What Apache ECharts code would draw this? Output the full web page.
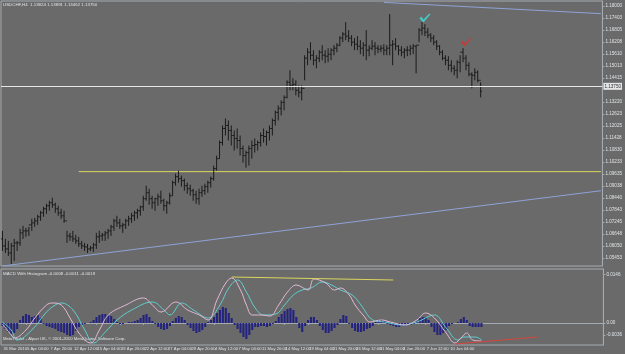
<!DOCTYPE html>
<html><head><meta charset="utf-8">
<script src="https://cdn.jsdelivr.net/npm/echarts@6/dist/echarts.min.js"></script>
<style>html,body{margin:0;padding:0;background:#6a6a6a}#c{width:625px;height:354px}</style>
</head><body><div id="c"></div>
<script>
// ---- DATA ----
const symbolTitle = "USDCHF,H4  1.13824 1.13891 1.13462 1.13750";
const macdTitle = "MACD With Histogram -0.0008 -0.0011 -0.0019";
const footer = "MetaTrader - Alpari UK, \u00a9 2001-2010 MetaQuotes Software Corp.";
const xTickLabels = ["31 Mar 2010","5 Apr 04:00","7 Apr 20:00","12 Apr 12:00","15 Apr 04:00","19 Apr 20:00","22 Apr 12:00","27 Apr 04:00","29 Apr 20:00","4 May 12:00","7 May 04:00","11 May 20:00","14 May 12:00","19 May 04:00","21 May 20:00","26 May 12:00","31 May 04:00","2 Jun 20:00","7 Jun 12:00","10 Jun 04:00","14 Jun 20:00"];
const priceTicks = [1.18000,1.17403,1.16805,1.16208,1.15610,1.15013,1.14415,1.13220,1.12623,1.12025,1.11428,1.10830,1.10233,1.09635,1.09038,1.08440,1.07843,1.07245,1.06648,1.06050,1.05453];
const macdTicks = [0.0146, 0, -0.0036];
const currentPrice = 1.1375;

const highs = [1.0680,1.0640,1.0630,1.0620,1.0640,1.0630,1.0690,1.0705,1.0695,1.0700,
 1.0740,1.0745,1.0760,1.0780,1.0800,1.0815,1.0830,1.0845,1.0820,1.0805,
 1.0790,1.0780,1.0680,1.0670,1.0680,1.0660,1.0650,1.0630,1.0620,1.0615,
 1.0605,1.0620,1.0670,1.0680,1.0670,1.0680,1.0690,1.0710,1.0740,1.0755,
 1.0740,1.0720,1.0740,1.0755,1.0770,1.0780,1.0790,1.0805,1.0855,1.0905,
 1.0890,1.0855,1.0845,1.0865,1.0880,1.0840,1.0830,1.0870,1.0930,1.0965,
 1.0980,1.0955,1.0940,1.0920,1.0910,1.0890,1.0880,1.0890,1.0905,1.0915,
 1.0930,1.0950,1.1005,1.1055,1.1130,1.1205,1.1240,1.1230,1.1205,1.1180,
 1.1190,1.1155,1.1105,1.1080,1.1105,1.1130,1.1140,1.1130,1.1170,1.1190,
 1.1180,1.1205,1.1240,1.1280,1.1305,1.1330,1.1355,1.1430,1.1480,1.1440,
 1.1430,1.1405,1.1405,1.1555,1.1590,1.1620,1.1580,1.1555,1.1580,1.1605,
 1.1580,1.1590,1.1590,1.1605,1.1615,1.1650,1.1670,1.1720,1.1680,1.1655,
 1.1640,1.1650,1.1630,1.1620,1.1680,1.1605,1.1630,1.1620,1.1605,1.1605,
 1.1610,1.1605,1.1760,1.1630,1.1640,1.1605,1.1600,1.1590,1.1600,1.1605,
 1.1610,1.1605,1.1690,1.1720,1.1710,1.1690,1.1665,1.1655,1.1630,1.1605,
 1.1580,1.1555,1.1550,1.1530,1.1505,1.1530,1.1555,1.1590,1.1555,1.1520,
 1.1470,1.1490,1.1480,1.1420];
const lows = [1.0580,1.0570,1.0555,1.0515,1.0530,1.0580,1.0605,1.0640,1.0650,1.0655,
 1.0680,1.0700,1.0710,1.0730,1.0750,1.0765,1.0780,1.0795,1.0770,1.0755,
 1.0740,1.0720,1.0620,1.0630,1.0625,1.0615,1.0600,1.0590,1.0580,1.0570,
 1.0580,1.0575,1.0590,1.0620,1.0630,1.0630,1.0640,1.0655,1.0680,1.0700,
 1.0690,1.0670,1.0690,1.0705,1.0720,1.0730,1.0740,1.0755,1.0780,1.0830,
 1.0810,1.0790,1.0780,1.0805,1.0815,1.0780,1.0765,1.0810,1.0855,1.0905,
 1.0920,1.0900,1.0880,1.0865,1.0855,1.0830,1.0815,1.0810,1.0850,1.0860,
 1.0870,1.0895,1.0930,1.0980,1.1040,1.1105,1.1155,1.1130,1.1105,1.1080,
 1.1090,1.1055,1.1020,1.0995,1.1005,1.1040,1.1070,1.1080,1.1100,1.1120,
 1.1105,1.1130,1.1155,1.1205,1.1230,1.1255,1.1280,1.1340,1.1380,1.1380,
 1.1355,1.1345,1.1330,1.1430,1.1505,1.1530,1.1505,1.1490,1.1520,1.1530,
 1.1515,1.1520,1.1530,1.1555,1.1570,1.1600,1.1620,1.1630,1.1620,1.1600,
 1.1580,1.1580,1.1560,1.1550,1.1530,1.1550,1.1580,1.1555,1.1565,1.1570,
 1.1555,1.1555,1.1555,1.1505,1.1580,1.1555,1.1550,1.1540,1.1550,1.1555,
 1.1560,1.1465,1.1620,1.1655,1.1650,1.1640,1.1620,1.1605,1.1580,1.1555,
 1.1530,1.1505,1.1480,1.1470,1.1455,1.1440,1.1470,1.1520,1.1480,1.1450,
 1.1390,1.1430,1.1420,1.1345];
const closes = [1.0605,1.0590,1.0570,1.0605,1.0620,1.0620,1.0670,1.0680,1.0680,1.0710,
 1.0720,1.0730,1.0750,1.0770,1.0790,1.0805,1.0820,1.0810,1.0790,1.0770,
 1.0755,1.0730,1.0655,1.0650,1.0640,1.0630,1.0615,1.0605,1.0600,1.0590,
 1.0595,1.0610,1.0650,1.0655,1.0660,1.0670,1.0680,1.0700,1.0730,1.0720,
 1.0705,1.0710,1.0730,1.0740,1.0755,1.0770,1.0780,1.0800,1.0840,1.0870,
 1.0840,1.0820,1.0840,1.0850,1.0830,1.0805,1.0820,1.0855,1.0920,1.0950,
 1.0940,1.0930,1.0905,1.0890,1.0880,1.0860,1.0840,1.0870,1.0880,1.0900,
 1.0920,1.0940,1.0990,1.1040,1.1120,1.1190,1.1205,1.1180,1.1155,1.1140,
 1.1130,1.1090,1.1055,1.1070,1.1090,1.1105,1.1110,1.1120,1.1155,1.1150,
 1.1170,1.1190,1.1230,1.1270,1.1290,1.1320,1.1345,1.1420,1.1405,1.1410,
 1.1380,1.1370,1.1390,1.1540,1.1570,1.1555,1.1530,1.1540,1.1570,1.1555,
 1.1550,1.1560,1.1580,1.1590,1.1605,1.1640,1.1660,1.1650,1.1640,1.1620,
 1.1610,1.1600,1.1590,1.1605,1.1580,1.1590,1.1600,1.1590,1.1585,1.1590,
 1.1580,1.1590,1.1605,1.1610,1.1600,1.1580,1.1570,1.1580,1.1580,1.1590,
 1.1600,1.1605,1.1680,1.1690,1.1670,1.1655,1.1640,1.1620,1.1600,1.1570,
 1.1540,1.1530,1.1505,1.1490,1.1480,1.1520,1.1570,1.1540,1.1505,1.1460,
 1.1455,1.1470,1.1430,1.1375];
const firstOpen = 1.0640;

const histogram = [-0.0009,-0.0018,-0.0027,-0.0033,-0.0030,-0.0018,0.0009,0.0021,0.0027,0.0024,
 0.0018,0.0021,0.0024,0.0015,-0.0003,-0.0009,-0.0012,-0.0015,-0.0018,-0.0024,
 -0.0027,-0.0030,-0.0036,-0.0039,-0.0036,-0.0024,-0.0012,-0.0006,-0.0003,0,
 0.0003,0.0009,0.0018,0.0024,0.0027,0.0027,0.0024,0.0021,0.0012,0.0003,
 -0.0003,-0.0003,0,0.0003,0.0003,0.0006,0.0009,0.0015,0.0024,0.0027,
 0.0018,0.0006,-0.0003,-0.0012,-0.0018,-0.0021,-0.0018,-0.0009,0.0006,0.0015,
 0.0021,0.0018,0.0009,-0.0006,-0.0015,-0.0024,-0.0030,-0.0027,-0.0021,-0.0012,
 0.0003,0.0009,0.0018,0.0030,0.0039,0.0048,0.0045,0.0030,0.0015,-0.0006,
 -0.0018,-0.0030,-0.0042,-0.0048,-0.0036,-0.0021,-0.0012,-0.0012,-0.0009,-0.0009,
 -0.0012,-0.0009,-0.0003,0.0006,0.0018,0.0027,0.0036,0.0042,0.0045,0.0039,
 0.0018,-0.0015,-0.0027,-0.0009,0.0009,0.0018,0.0018,0.0009,-0.0009,-0.0021,
 -0.0030,-0.0030,-0.0024,-0.0015,-0.0006,0.0012,0.0024,0.0021,-0.0003,-0.0015,
 -0.0024,-0.0027,-0.0027,-0.0024,-0.0018,-0.0015,-0.0009,0.0003,0.0009,0.0009,
 0.0006,-0.0003,-0.0006,-0.0009,-0.0012,-0.0012,-0.0009,-0.0009,-0.0006,-0.0006,
 -0.0003,0.0006,0.0015,0.0018,0.0018,0.0009,-0.0012,-0.0027,-0.0036,-0.0036,
 -0.0030,-0.0021,-0.0009,-0.0003,0,0.0003,0.0012,0.0018,0.0009,-0.0009,
 -0.0012,-0.0012,-0.0012,-0.0012];

// [bar index, value] samples of the two MACD lines
const macdMain = [[0,-0.0003],[3,-0.0036],[4,-0.0045],[8,-0.0021],[11,0.0015],[15,0.0054],[17,0.0060],[20,0.0054],[23,0.0015],[26,-0.0030],[30,-0.0060],[33,-0.0021],[36,0.0024],[42,0.0054],[48,0.0075],[51,0.0054],[54,0.0033],[59,0.0063],[63,0.0039],[67,0.0024],[70,0.0009],[73,0.0069],[76,0.0120],[78,0.0135],[81,0.0099],[83,0.0054],[85,0.0024],[88,0.0024],[91,0.0021],[94,0.0054],[97,0.0093],[100,0.0114],[104,0.0099],[106,0.0132],[110,0.0120],[113,0.0099],[115,0.0105],[118,0.0084],[120,0.0054],[123,0.0021],[125,0.0003],[129,0.0009],[132,0.0003],[137,-0.0006],[141,0.0009],[144,0.0030],[147,0.0015],[151,-0.0030],[154,-0.0060],[156,-0.0045],[158,-0.0030],[160,-0.0051],[163,-0.0054]];
const macdSignal = [[0,0.0003],[3,-0.0021],[5,-0.0051],[10,-0.0021],[15,0.0033],[18,0.0054],[20,0.0060],[24,0.0039],[28,-0.0021],[31,-0.0060],[35,-0.0027],[39,0.0009],[44,0.0039],[51,0.0063],[55,0.0039],[57,0.0024],[61,0.0060],[65,0.0039],[70,0.0015],[74,0.0054],[77,0.0105],[80,0.0129],[83,0.0093],[86,0.0045],[89,0.0024],[93,0.0027],[96,0.0054],[99,0.0084],[102,0.0099],[105,0.0105],[109,0.0123],[112,0.0114],[115,0.0099],[119,0.0084],[122,0.0054],[126,0.0009],[130,0.0003],[136,-0.0006],[141,0.0003],[147,0.0024],[151,-0.0015],[155,-0.0051],[157,-0.0042],[161,-0.0042],[163,-0.0051]];

// hand-drawn objects: [bar index, value] end points
const yellowLevel = [[26,1.0975],[204,1.0975]];
const lowerTrend = [[0,1.0505],[204,1.0880]];
const upperTrend = [[130,1.1818],[204,1.1762]];
const macdYellow = [[78,0.0138],[133,0.0129]];
const macdRed = [[154,-0.0063],[182,-0.0042]];
const cyanCheck = [[144,1.1740]];
const redCheck = [[158,1.1620]];
const slotCount = 205;
const labelEvery = 8;

// ---- BUILD ----
const cats = [];
for (let i = 0; i < slotCount; i++) {
  cats.push(i % labelEvery === 0 && xTickLabels[i / labelEvery] ? xTickLabels[i / labelEvery] : '');
}
const ohlc = highs.map((h, i) => [i, i === 0 ? firstOpen : closes[i - 1], closes[i], lows[i], h]);

const FG = '#dfe3e6', FRAME = '#a3abb0', FONT = 'Liberation Sans';
const chart = echarts.init(document.getElementById('c'), null, {renderer: 'canvas'});
const checkPath = 'path://M0,5 L2,3 L4,6 L10,0 L11,1 L4,9 Z';
const showLabel = (idx, val) => val !== '';

chart.setOption({
  animation: false,
  backgroundColor: '#6a6a6a',
  grid: [
    {left: 1, right: 15, top: 1, height: 265, show: true, borderColor: FRAME, borderWidth: 1, backgroundColor: '#6a6a6a'},
    {left: 1, right: 15, top: 269, height: 76, show: true, borderColor: FRAME, borderWidth: 1, backgroundColor: '#6a6a6a'}
  ],
  xAxis: [
    {type: 'category', gridIndex: 0, data: cats, boundaryGap: true, axisLine: {show: false}, axisTick: {show: false}, axisLabel: {show: false}, splitLine: {show: false}},
    {type: 'category', gridIndex: 1, data: cats, boundaryGap: true,
     axisLine: {show: true, lineStyle: {color: FRAME}},
     axisTick: {show: true, interval: showLabel, alignWithLabel: true, length: 2, lineStyle: {color: FRAME}},
     axisLabel: {show: true, interval: showLabel, align: 'left', color: FG, fontSize: 4.2, fontFamily: FONT, margin: 2, padding: [0,0,0,1]},
     splitLine: {show: false}}
  ],
  yAxis: [
    {type: 'value', gridIndex: 0, position: 'right', min: 1.0505, max: 1.1825, scale: true,
     axisLine: {show: true, lineStyle: {color: FRAME}},
     axisTick: {show: true, customValues: priceTicks, length: 2, lineStyle: {color: FRAME}},
     axisLabel: {show: true, customValues: priceTicks, formatter: v => v.toFixed(5), color: FG, fontSize: 4.6, fontFamily: FONT, margin: 3},
     splitLine: {show: false}},
    {type: 'value', gridIndex: 1, position: 'right', min: -0.0066, max: 0.0162,
     axisLine: {show: true, lineStyle: {color: FRAME}},
     axisTick: {show: true, customValues: macdTicks, length: 2, lineStyle: {color: FRAME}},
     axisLabel: {show: true, customValues: macdTicks, formatter: v => v === 0 ? '0.00' : v.toFixed(4), color: FG, fontSize: 4.6, fontFamily: FONT, margin: 3},
     splitLine: {show: false}}
  ],
  graphic: [
    {type: 'text', left: 3, top: 3, style: {text: symbolTitle, fill: FG, font: '4.4px "Liberation Sans"'}},
    {type: 'text', left: 3, top: 272, style: {text: macdTitle, fill: FG, font: '4.4px "Liberation Sans"'}},
    {type: 'text', left: 3, top: 337, style: {text: footer, fill: FG, font: '4.2px "Liberation Sans"'}}
  ],
  series: [
    {type: 'line', xAxisIndex: 0, yAxisIndex: 0, data: lowerTrend, showSymbol: false, lineStyle: {color: '#8ea3d6', width: 1}, silent: true, z: 2},
    {type: 'line', xAxisIndex: 0, yAxisIndex: 0, data: upperTrend, showSymbol: false, lineStyle: {color: '#8ea3d6', width: 1}, silent: true, z: 2},
    {type: 'line', xAxisIndex: 0, yAxisIndex: 0, data: yellowLevel, showSymbol: false, lineStyle: {color: '#d9d65e', width: 1}, silent: true, z: 2},
    {type: 'custom', xAxisIndex: 0, yAxisIndex: 0, data: ohlc, z: 3,
     renderItem: function (params, api) {
       const x = api.coord([api.value(0), api.value(4)])[0];
       const yH = api.coord([api.value(0), api.value(4)])[1];
       const yL = api.coord([api.value(0), api.value(3)])[1];
       const yO = api.coord([api.value(0), api.value(1)])[1];
       const yC = api.coord([api.value(0), api.value(2)])[1];
       const st = {stroke: '#1b1b1b', lineWidth: 1};
       return {type: 'group', children: [
         {type: 'line', shape: {x1: x, y1: yH, x2: x, y2: yL}, style: st},
         {type: 'line', shape: {x1: x - 1.4, y1: yO, x2: x, y2: yO}, style: st},
         {type: 'line', shape: {x1: x, y1: yC, x2: x + 1.4, y2: yC}, style: st}
       ]};
     },
     markLine: {symbol: 'none', silent: true, data: [{yAxis: currentPrice}],
       lineStyle: {color: '#e6e6e6', width: 1, type: 'solid'},
       label: {show: true, position: 'end', distance: 1, formatter: () => currentPrice.toFixed(5),
         backgroundColor: '#e4e6e8', color: '#303030', fontSize: 4.6, fontFamily: FONT, padding: [1, 1]}}},
    {type: 'scatter', xAxisIndex: 0, yAxisIndex: 0, data: cyanCheck, symbol: checkPath, symbolSize: [11, 9], itemStyle: {color: '#3fe0dc'}, z: 5, silent: true},
    {type: 'scatter', xAxisIndex: 0, yAxisIndex: 0, data: redCheck, symbol: checkPath, symbolSize: [10, 8], itemStyle: {color: '#e0302c'}, z: 5, silent: true},

    {type: 'bar', xAxisIndex: 1, yAxisIndex: 1, data: histogram, barWidth: '72%', itemStyle: {color: '#24247f'}, silent: true, z: 2},
    {type: 'line', xAxisIndex: 1, yAxisIndex: 1, data: macdSignal, smooth: 0.4, showSymbol: false, lineStyle: {color: '#5fcfd0', width: 1}, silent: true, z: 3},
    {type: 'line', xAxisIndex: 1, yAxisIndex: 1, data: macdMain, smooth: 0.4, showSymbol: false, lineStyle: {color: '#e3b9d6', width: 1}, silent: true, z: 4},
    {type: 'line', xAxisIndex: 1, yAxisIndex: 1, data: macdYellow, showSymbol: false, lineStyle: {color: '#d9d65e', width: 1}, silent: true, z: 5},
    {type: 'line', xAxisIndex: 1, yAxisIndex: 1, data: macdRed, showSymbol: false, lineStyle: {color: '#d8453c', width: 1}, silent: true, z: 5}
  ]
});
</script>
</body></html>
